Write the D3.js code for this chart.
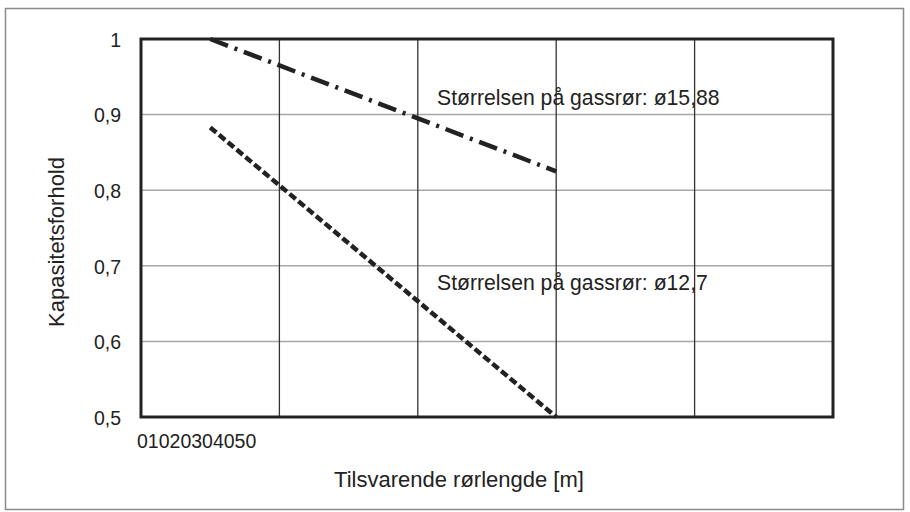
<!DOCTYPE html>
<html>
<head>
<meta charset="utf-8">
<script src="https://cdn.jsdelivr.net/npm/d3@7"></script>
<style>
  body { margin: 0; background: #fff; }
  text { font-family: "Liberation Sans", Arial, sans-serif; fill: #222; }
</style>
</head>
<body>
<div id="chart"></div>
<script>
const width = 910;
const height = 512;

// Data
const xTicks = [0, 10, 20, 30, 40, 50];
const yTicks = [0.5, 0.6, 0.7, 0.8, 0.9, 1];
const pipe1588X = [5, 30];
const pipe1588Y = [1.0, 0.825];
const pipe127X = [5, 30];
const pipe127Y = [0.883, 0.5];
const labels = ["Størrelsen på gassrør: ø15,88", "Størrelsen på gassrør: ø12,7"];

const svg = d3.select("#chart").append("svg")
    .attr("width", width)
    .attr("height", height);

// outer frame
svg.append("rect")
    .attr("x", 5.5).attr("y", 8.5)
    .attr("width", 898).attr("height", 501)
    .attr("fill", "#fff")
    .attr("stroke", "#8a8a8a")
    .attr("stroke-width", 1.5);

const x = d3.scaleLinear().domain([0, 50]).range([141, 833]);
const y = d3.scaleLinear().domain([0.5, 1]).range([417, 39]);

// horizontal grid
svg.append("g")
    .selectAll("line")
    .data(yTicks)
    .enter().append("line")
    .attr("x1", x(0)).attr("x2", x(50))
    .attr("y1", d => y(d)).attr("y2", d => y(d))
    .attr("stroke", "#a8a8a8")
    .attr("stroke-width", 1.5);

// vertical grid
svg.append("g")
    .selectAll("line")
    .data(xTicks)
    .enter().append("line")
    .attr("x1", d => x(d)).attr("x2", d => x(d))
    .attr("y1", y(1)).attr("y2", y(0.5))
    .attr("stroke", "#333")
    .attr("stroke-width", 1.3);

// plot frame
svg.append("rect")
    .attr("x", x(0)).attr("y", y(1))
    .attr("width", x(50) - x(0)).attr("height", y(0.5) - y(1))
    .attr("fill", "none")
    .attr("stroke", "#222")
    .attr("stroke-width", 3);

// y tick labels
const fmt = d => String(d).replace(".", ",");
svg.append("g")
    .selectAll("text")
    .data(yTicks)
    .enter().append("text")
    .attr("x", 121)
    .attr("y", d => y(d) + 1)
    .attr("dy", "0.35em")
    .attr("text-anchor", "end")
    .style("font-size", "19.5px")
    .text(fmt);

// x tick labels (squashed together as in the original)
svg.append("text")
    .attr("x", 137)
    .attr("y", 448)
    .style("font-size", "19.5px")
    .text(xTicks.join(""));

// axis titles
svg.append("text")
    .attr("x", 459)
    .attr("y", 487)
    .attr("text-anchor", "middle")
    .style("font-size", "22px")
    .text("Tilsvarende rørlengde [m]");

svg.append("text")
    .attr("transform", "translate(64,242) rotate(-90)")
    .attr("text-anchor", "middle")
    .style("font-size", "22px")
    .text("Kapasitetsforhold");

// lines
const line = d3.line().x(d => x(d[0])).y(d => y(d[1]));

svg.append("path")
    .datum(d3.zip(pipe1588X, pipe1588Y))
    .attr("d", line)
    .attr("fill", "none")
    .attr("stroke", "#222")
    .attr("stroke-width", 4.5)
    .attr("stroke-dasharray", "19,7,3,7");

svg.append("path")
    .datum(d3.zip(pipe127X, pipe127Y))
    .attr("d", line)
    .attr("fill", "none")
    .attr("stroke", "#222")
    .attr("stroke-width", 4.5)
    .attr("stroke-dasharray", "8,3.5");

// line labels
svg.append("text")
    .attr("x", 437).attr("y", 105)
    .style("font-size", "21.2px")
    .text(labels[0]);

svg.append("text")
    .attr("x", 437).attr("y", 290)
    .style("font-size", "21.2px")
    .text(labels[1]);
</script>
</body>
</html>
